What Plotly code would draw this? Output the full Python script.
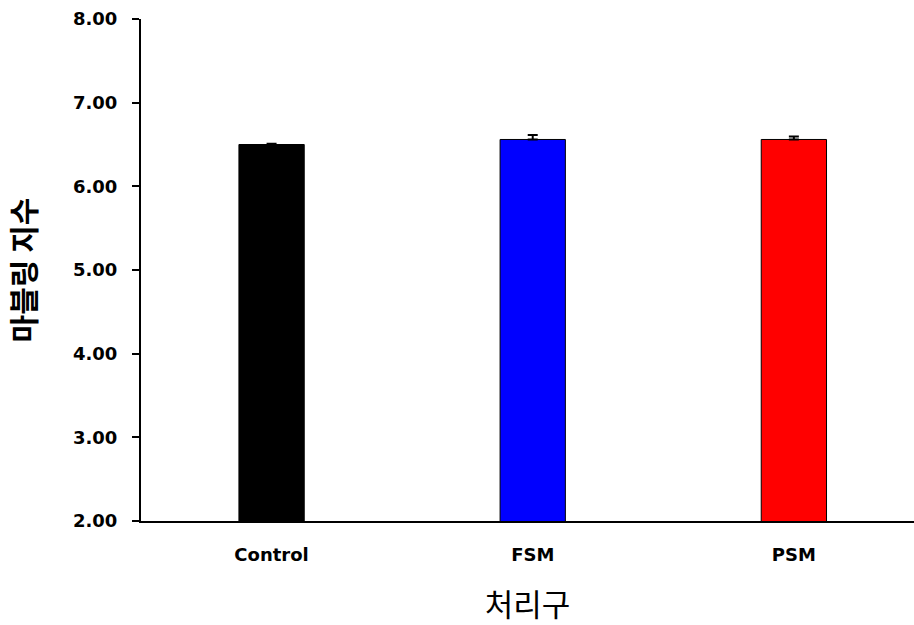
import plotly.graph_objects as go

categories = ["Control", "FSM", "PSM"]
values = [6.50, 6.56, 6.56]
errors_up = [0.01, 0.055, 0.035]
errors_down = [0, 0, 0]
colors = ["#000000", "#0000FF", "#FF0000"]
y_ticks = [2, 3, 4, 5, 6, 7, 8]
y_tick_labels = ["2.00", "3.00", "4.00", "5.00", "6.00", "7.00", "8.00"]

fig = go.Figure()
fig.add_trace(go.Bar(
    x=categories, y=values,
    marker=dict(color=colors, line=dict(color="#000000", width=1)),
    width=0.25,
    error_y=dict(type="data", symmetric=False, array=errors_up, arrayminus=errors_down,
                 visible=True, color="#000000", thickness=2, width=5),
    showlegend=False,
))

fig.update_layout(
    width=914, height=625,
    margin=dict(l=141, r=0, t=19, b=104),
    plot_bgcolor="white", paper_bgcolor="white",
    font=dict(family="DejaVu Sans", color="#000000"),
)
fig.update_xaxes(
    range=[-0.5, 2.46],
    showline=True, linecolor="#000000", linewidth=2,
    ticks="", ticklabelstandoff=16,
    tickfont=dict(size=18, family="DejaVu Sans", weight="bold"),
    title=dict(text="처리구", font=dict(size=31, family="Noto Sans CJK KR"), standoff=31),
    showgrid=False,
)
fig.update_yaxes(
    range=[2, 8], tickvals=y_ticks, ticktext=y_tick_labels,
    showline=True, linecolor="#000000", linewidth=2,
    ticks="outside", ticklen=7, tickwidth=2, tickcolor="#000000",
    ticklabelstandoff=11,
    tickfont=dict(size=18, family="DejaVu Sans", weight="bold"),
    title=dict(text="마블링 지수", font=dict(size=30, family="Noto Sans CJK KR", weight="bold"), standoff=30),
    showgrid=False, zeroline=False,
)

fig.write_html("out.html")
